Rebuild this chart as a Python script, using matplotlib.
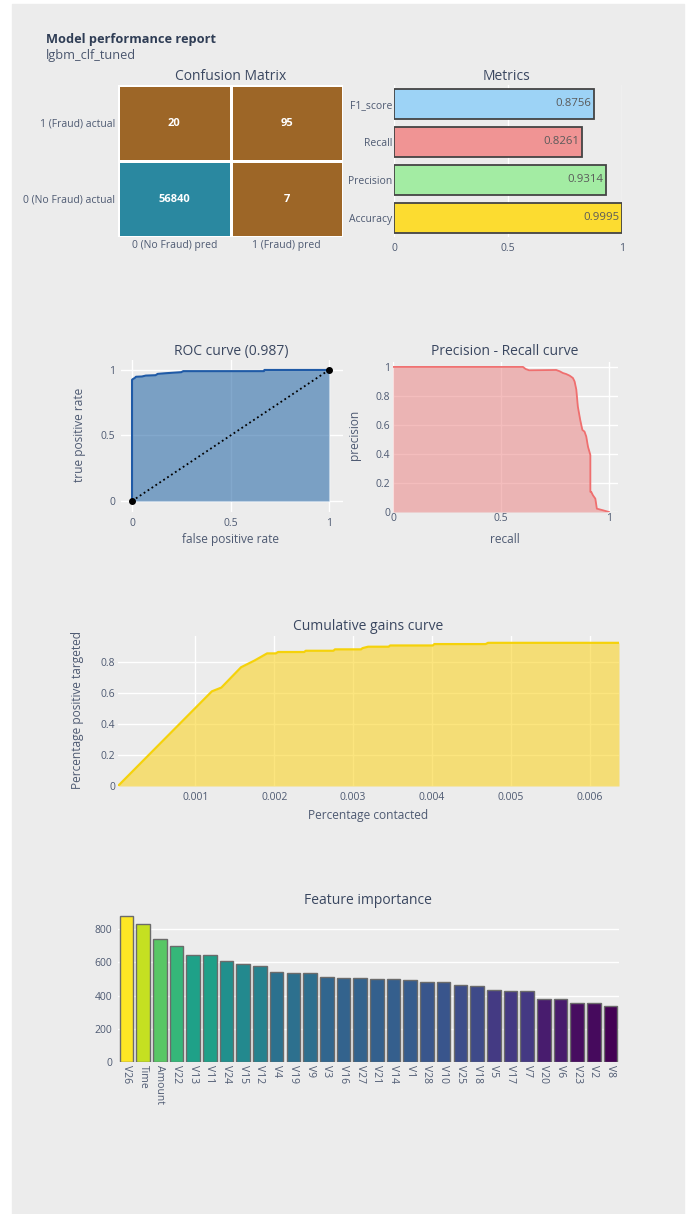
import numpy as np
import matplotlib
matplotlib.use("Agg")
import matplotlib.pyplot as plt
from matplotlib.colors import LinearSegmentedColormap, Normalize
from matplotlib.patches import Rectangle

plt.rcParams['font.family'] = ['Open Sans', 'DejaVu Sans']

# report data
model_name = "lgbm_clf_tuned"

cm_rows = ["0 (No Fraud) actual", "1 (Fraud) actual"]
cm_cols = ["0 (No Fraud) pred", "1 (Fraud) pred"]
cm_values = [[56840, 7],
             [20, 95]]

metric_names = ["F1_score", "Recall", "Precision", "Accuracy"]
metric_values = [0.8756, 0.8261, 0.9314, 0.9995]
metric_colors = ["#9dd3f6", "#f09494", "#a3eca3", "#fcdc30"]

roc_auc = 0.987
roc_fpr = [0, 0, 0.004, 0.015, 0.02, 0.05, 0.07, 0.12, 0.13, 0.17, 0.25, 0.26, 0.67, 0.672, 1.0]
roc_tpr = [0, 0.925, 0.93, 0.94, 0.948, 0.950, 0.957, 0.96, 0.97, 0.975, 0.983, 0.991, 0.991, 1.0, 1.0]

pr_recall = [0, 0.602, 0.614, 0.63, 0.756, 0.772, 0.787, 0.802, 0.818, 0.833, 0.841, 0.849,
             0.856, 0.867, 0.877, 0.887, 0.895, 0.903, 0.914, 0.914, 0.918, 0.926, 0.937,
             0.944, 0.972, 1.0]
pr_precision = [1.0, 1.0, 0.986, 0.977, 0.979, 0.970, 0.958, 0.951, 0.94, 0.924, 0.90, 0.843,
                0.727, 0.635, 0.566, 0.554, 0.52, 0.45, 0.393, 0.139, 0.139, 0.115, 0.092,
                0.023, 0.012, 0.0]

gains_x = [0.00002, 0.00121, 0.00133, 0.00158, 0.00175, 0.00191, 0.00202, 0.00205, 0.00238,
           0.0024, 0.00275, 0.00277, 0.0031, 0.00312, 0.00319, 0.00345, 0.00347, 0.00401,
           0.00403, 0.00468, 0.00471, 0.00637]
gains_y = [0, 0.609, 0.633, 0.764, 0.807, 0.853, 0.853, 0.862, 0.862, 0.870, 0.870, 0.879,
           0.879, 0.887, 0.896, 0.896, 0.904, 0.904, 0.913, 0.913, 0.921, 0.921]

features = ["V26", "Time", "Amount", "V22", "V13", "V11", "V24", "V15", "V12", "V4",
            "V19", "V9", "V3", "V16", "V27", "V21", "V14", "V1", "V28", "V10",
            "V25", "V18", "V5", "V17", "V7", "V20", "V6", "V23", "V2", "V8"]
importance = [877, 830, 738, 697, 645, 643, 607, 592, 578, 540,
              536, 534, 514, 508, 508, 502, 500, 494, 484, 480,
              465, 459, 431, 429, 429, 381, 377, 357, 353, 339]

W, H = 687, 1214
BG = "#ececec"
TICK = "#4e5a72"
TITLE = "#3a4760"

fig = plt.figure(figsize=(W / 100, H / 100), dpi=100, facecolor="white")
fig.patches.append(Rectangle((12 / W, 0), (684 - 12) / W, (H - 4) / H,
                             transform=fig.transFigure, color=BG, zorder=-10))


def px_axes(x0, y0, x1, y1):
    ax = fig.add_axes([x0 / W, 1 - y1 / H, (x1 - x0) / W, (y1 - y0) / H])
    ax.set_facecolor("none")
    for s in ax.spines.values():
        s.set_visible(False)
    ax.tick_params(length=0, labelsize=7.5, colors=TICK, pad=4)
    ax.set_axisbelow(True)
    return ax


def px_text(x, y, s, **kw):
    kw.setdefault("color", TITLE)
    kw.setdefault("ha", "center")
    kw.setdefault("va", "center")
    return fig.text(x / W, 1 - y / H, s, **kw)


def white_grid(ax, axis="both"):
    ax.grid(True, axis=axis, color="white", linewidth=1.0)


# header
px_text(46, 40, "Model performance report", ha="left", fontsize=9.2,
        fontweight="bold", color="#2f3d55")
px_text(46, 56, model_name, ha="left", fontsize=9.2, color="#4a566e")

# confusion matrix
ax = px_axes(118, 85, 343, 237)
cmap = LinearSegmentedColormap.from_list("cm", ["#9d6627", "#2a88a0"])
z = np.array(cm_values)
ax.pcolormesh(np.arange(3), np.arange(3), z, cmap=cmap,
              norm=Normalize(z.min(), z.max()), edgecolors="white", linewidth=0.9)
for i in range(2):
    for j in range(2):
        ax.text(j + 0.5, i + 0.5, str(cm_values[i][j]), color="white",
                fontsize=8, fontweight="bold", ha="center", va="center")
ax.set_xlim(0, 2)
ax.set_ylim(0, 2)
ax.set_xticks([0.5, 1.5])
ax.set_xticklabels(cm_cols)
ax.set_yticks([0.5, 1.5])
ax.set_yticklabels(cm_rows)
ax.tick_params(pad=2)
px_text(231, 76, "Confusion Matrix", fontsize=10)

# metrics
ax = px_axes(394, 85, 622, 237)
ypos = np.arange(len(metric_names))[::-1]
ax.barh(ypos, metric_values, height=0.8, color=metric_colors,
        edgecolor="#444444", linewidth=1.3)
for y, v in zip(ypos, metric_values):
    ax.text(v - 0.012, y, f"{v:.4f}", ha="right", va="center",
            fontsize=8.2, color="#5a5a5a")
ax.set_yticks(ypos)
ax.set_yticklabels(metric_names)
ax.set_xlim(0, 1)
ax.set_ylim(-0.5, len(metric_names) - 0.5)
ax.set_xticks([0, 0.5, 1])
ax.set_xticklabels(["0", "0.5", "1"])
ax.tick_params(axis="y", pad=1)
white_grid(ax, "x")
px_text(506, 76, "Metrics", fontsize=10)

# ROC curve
ax = px_axes(121, 360, 343, 512)
white_grid(ax)
ax.fill_between(roc_fpr, roc_tpr, 0, color=(47 / 255, 110 / 255, 170 / 255),
                alpha=0.6, linewidth=0)
ax.plot(roc_fpr, roc_tpr, color="#1f5aa6", linewidth=1.5)
ax.plot([0, 1], [0, 1], color="black", linestyle=(0, (1, 1.6)), linewidth=1.3,
        marker="o", markersize=4)
ax.set_xlim(-0.056, 1.071)
ax.set_ylim(-0.084, 1.076)
ax.set_xticks([0, 0.5, 1])
ax.set_xticklabels(["0", "0.5", "1"])
ax.set_yticks([0, 0.5, 1])
ax.set_yticklabels(["0", "0.5", "1"])
px_text(231, 351, f"ROC curve ({roc_auc})", fontsize=10)
px_text(231, 540, "false positive rate", fontsize=8.6, color=TICK)
px_text(80, 435, "true positive rate", fontsize=8.6, color=TICK, rotation=90)

# precision - recall curve
ax = px_axes(393, 362, 618, 512)
white_grid(ax)
ax.fill_between(pr_recall, pr_precision, 0, color=(235 / 255, 125 / 255, 125 / 255),
                alpha=0.5, linewidth=0)
ax.plot(pr_recall, pr_precision, color="#ef6f6f", linewidth=1.3)
ax.set_xlim(0, 1.042)
ax.set_ylim(0, 1.034)
ax.set_xticks([0, 0.5, 1])
ax.set_xticklabels(["0", "0.5", "1"])
ax.set_yticks([0, 0.2, 0.4, 0.6, 0.8, 1])
ax.set_yticklabels(["0", "0.2", "0.4", "0.6", "0.8", "1"])
ax.tick_params(axis="x", pad=1)
ax.tick_params(axis="y", pad=2)
px_text(505, 351, "Precision - Recall curve", fontsize=10)
px_text(505, 540, "recall", fontsize=8.6, color=TICK)
px_text(355, 435, "precision", fontsize=8.6, color=TICK, rotation=90)

# cumulative gains
ax = px_axes(118, 636, 619, 786)
white_grid(ax)
ax.fill_between(gains_x, gains_y, 0, color=(250 / 255, 212 / 255, 40 / 255),
                alpha=0.6, linewidth=0)
ax.plot(gains_x, gains_y, color="#f5d20a", linewidth=1.6)
ax.set_xlim(gains_x[0], gains_x[-1])
ax.set_ylim(0, 0.965)
ax.set_xticks([0.001, 0.002, 0.003, 0.004, 0.005, 0.006])
ax.set_xticklabels(["0.001", "0.002", "0.003", "0.004", "0.005", "0.006"])
ax.set_yticks([0, 0.2, 0.4, 0.6, 0.8])
ax.set_yticklabels(["0", "0.2", "0.4", "0.6", "0.8"])
ax.tick_params(axis="y", pad=2)
px_text(368, 626, "Cumulative gains curve", fontsize=10)
px_text(368, 815, "Percentage contacted", fontsize=8.6, color=TICK)
px_text(78, 710, "Percentage positive targeted", fontsize=8.6, color=TICK, rotation=90)

# feature importance
ax = px_axes(118, 909, 619, 1062)
white_grid(ax, "y")
norm = Normalize(min(importance), max(importance))
colors = plt.cm.viridis(norm(np.array(importance)))
xpos = np.arange(len(features))
ax.bar(xpos, importance, width=0.82, color=colors, edgecolor="#6b6b6b", linewidth=1.0)
ax.set_xlim(-0.5, len(features) - 0.5)
ax.set_ylim(0, 921)
ax.set_xticks(xpos)
ax.set_xticklabels(features, rotation=-90, va="top")
ax.set_yticks([0, 200, 400, 600, 800])
ax.tick_params(axis="x", pad=2)
px_text(368, 901, "Feature importance", fontsize=10)

fig.savefig("out.png", dpi=100, facecolor=fig.get_facecolor())
